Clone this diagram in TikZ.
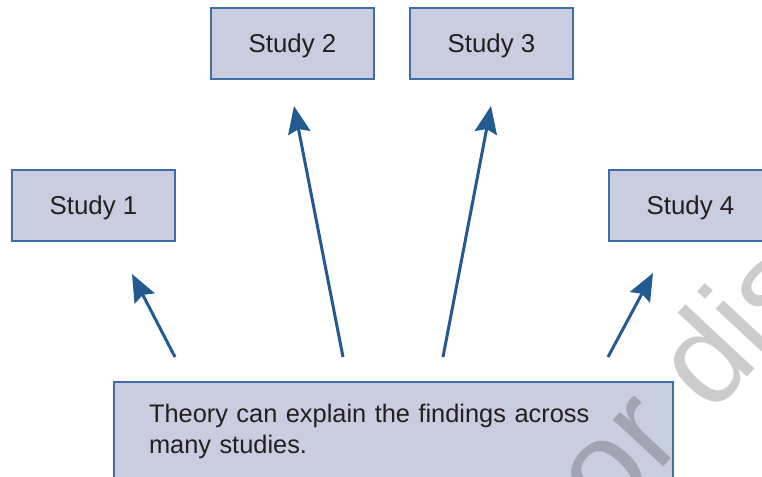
\documentclass[tikz,border=0pt]{standalone}
\usepackage{fontspec}
\setmainfont{Liberation Sans}
\usepackage{tikz}
\usetikzlibrary{arrows.meta}
\definecolor{boxfill}{HTML}{CACDE0}
\definecolor{boxline}{HTML}{3F6DA6}
\definecolor{arrowblue}{HTML}{245A92}
\definecolor{textdark}{HTML}{231F20}

\begin{document}
\begin{tikzpicture}[
    studybox/.style={draw=boxline, fill=boxfill, line width=0.04cm, text=textdark,
      minimum width=3.26cm, minimum height=1.42cm, inner sep=0pt, text depth=0pt,
      font=\fontsize{14.7}{17.6}\selectfont},
    pointer/.style={arrowblue, line width=0.06cm,
      -{Stealth[length=0.55cm, width=0.45cm, inset=0.08cm]}}]
  \useasboundingbox (0,0) rectangle (15.24,9.52);
  \clip (0,0) rectangle (15.24,9.52);
  %Studies
  \node[studybox] (study1) at (1.87,5.41) {Study 1};
  \node[studybox] (study2) at (5.85,8.65) {Study 2};
  \node[studybox] (study3) at (9.83,8.65) {Study 3};
  \node[studybox] (study4) at (13.81,5.41) {Study 4};
  %Theory
  \node[studybox, anchor=north west, align=left, text width=9.78cm,
    inner xsep=0.7cm, inner ysep=0.44cm, text depth=,
    font=\fontsize{14.45}{17.6}\selectfont] (theory) at (2.26,1.90)
    {Theory can explain the findings across\\many studies.};
  %Arrows
  \coordinate (tail1) at (3.50,2.38);  \coordinate (tip1) at (2.64,4.04);
  \coordinate (tail2) at (6.86,2.38);  \coordinate (tip2) at (5.88,7.40);
  \coordinate (tail3) at (8.86,2.38);  \coordinate (tip3) at (9.82,7.40);
  \coordinate (tail4) at (12.16,2.38); \coordinate (tip4) at (13.06,4.06);
  \draw[pointer] (tail1) -- (tip1);
  \draw[pointer] (tail2) -- (tip2);
  \draw[pointer] (tail3) -- (tip3);
  \draw[pointer] (tail4) -- (tip4);
  %Watermark
  \node[anchor=base west, rotate=47, inner sep=0pt, text=black, text opacity=0.2,
    font=\fontsize{74}{74}\selectfont] (mark) at (12.15,-1.02) {or dis};
\end{tikzpicture}
\end{document}
